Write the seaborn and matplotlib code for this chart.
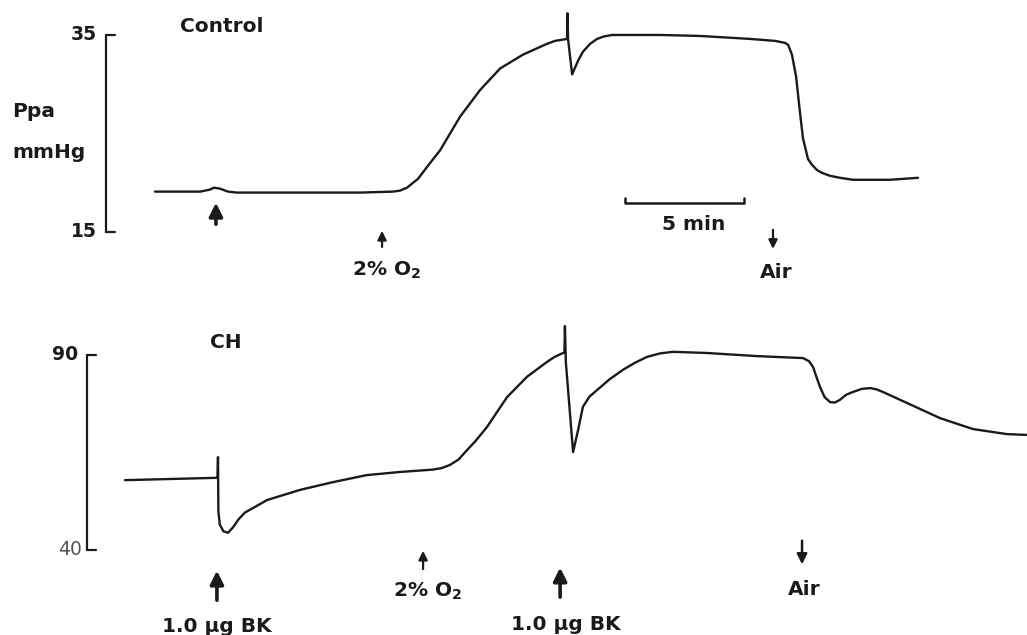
import matplotlib
matplotlib.use("Agg")
import matplotlib.pyplot as plt
import seaborn as sns
import pandas as pd

sns.set_theme(style="white")
plt.rcParams['font.family'] = ['DejaVu Sans']
plt.rcParams['mathtext.fontset'] = 'dejavusans'
plt.rcParams['mathtext.default'] = 'bf'

# ---- data (time in min, Ppa in mmHg) ----
control_t = [1.25, 3.13, 3.54, 3.71, 3.96, 4.29, 4.67, 7.29, 9.79, 11.17, 11.46, 11.75,
             12.21, 12.71, 13.13, 13.96, 14.79, 15.63, 16.58, 17.58, 17.92, 18.42, 18.44,
             18.46, 18.63, 18.88, 19.08, 19.38, 19.67, 19.96, 20.29, 22.29, 23.96, 26.04,
             27.08, 27.50, 27.63, 27.79, 27.96, 28.13, 28.25, 28.46, 28.63, 28.83, 29.04,
             29.38, 29.79, 30.33, 31.88, 33.04]
control_p = [19.1, 19.1, 19.3, 19.5, 19.4, 19.1, 19.0, 19.0, 19.0, 19.1, 19.2, 19.5,
             20.4, 22.0, 23.3, 26.7, 29.4, 31.6, 33.0, 34.1, 34.4, 34.6, 37.2,
             34.6, 31.0, 32.4, 33.3, 34.1, 34.6, 34.85, 35.0, 35.0, 34.9, 34.6,
             34.4, 34.2, 34.0, 33.0, 30.8, 27.0, 24.5, 22.4, 21.8, 21.3, 21.0,
             20.7, 20.5, 20.3, 20.3, 20.5]

ch_t = [0.00, 3.83, 3.855, 3.875, 3.89, 3.95, 4.10, 4.29, 4.50, 4.75, 5.00, 5.92, 7.29,
        8.67, 10.08, 11.46, 12.83, 13.20, 13.54, 13.90, 14.25, 14.60, 15.08, 15.92, 16.75,
        17.58, 17.90, 18.25, 18.31, 18.33, 18.37, 18.67, 18.88, 19.08, 19.35, 19.67,
        20.20, 20.75, 21.25, 21.75, 22.30, 22.83, 24.25, 26.33, 28.25, 28.50, 28.67,
        28.83, 28.96, 29.15, 29.38, 29.58, 29.79, 30.05, 30.33, 30.70, 31.04, 31.30,
        31.58, 32.58, 33.96, 35.33, 36.75, 37.58]
ch_p = [57.9, 58.5, 58.5, 63.8, 50.0, 46.5, 44.8, 44.4, 45.8, 48.0, 49.6, 52.8, 55.4,
        57.4, 59.2, 60.0, 60.6, 61.0, 61.8, 63.2, 65.6, 67.9, 71.5, 79.2, 84.4,
        88.2, 89.5, 90.5, 90.6, 97.4, 88.0, 65.1, 70.8, 76.7, 79.3, 81.0,
        83.8, 86.2, 88.0, 89.5, 90.4, 90.8, 90.5, 89.7, 89.2, 88.4, 86.9,
        84.0, 81.8, 79.2, 77.9, 77.8, 78.5, 79.8, 80.5, 81.3, 81.5, 81.2,
        80.5, 77.7, 73.8, 71.0, 69.7, 69.5]

control_scale = [15, 35]
ch_scale = [40, 90]

# events: (time, label)
control_events = [(3.79, ""), (10.71, "2% O$_2$"), (27.0, "Air")]
ch_events = [(3.83, "1.0 μg BK"), (12.42, "2% O$_2$"), (18.13, "1.0 μg BK"), (28.21, "Air")]

df_c = pd.DataFrame({"t": control_t, "p": control_p})
df_h = pd.DataFrame({"t": ch_t, "p": ch_p})

fig = plt.figure(figsize=(10.27, 6.35), dpi=100)
ax1 = fig.add_axes([0, 0.5, 1, 0.5])
ax2 = fig.add_axes([0, 0.0, 1, 0.5])

XL = (-5.208, 37.583)
for ax in (ax1, ax2):
    ax.set_xlim(*XL)
    ax.axis("off")
ax1.set_ylim(6.32, 38.55)
ax2.set_ylim(18.2, 99.6)

k = "#1a1a1a"
sns.lineplot(data=df_c, x="t", y="p", ax=ax1, color=k, lw=1.7,
             sort=False, estimator=None, solid_joinstyle="round", solid_capstyle="round")
sns.lineplot(data=df_h, x="t", y="p", ax=ax2, color=k, lw=1.7,
             sort=False, estimator=None, solid_joinstyle="round", solid_capstyle="round")

FS = 14.5

# ---- top panel annotations ----
lo, hi = control_scale
ax1.plot([-0.79, -0.79], [lo, hi], color=k, lw=1.6)
ax1.plot([-0.79, -0.40], [hi, hi], color=k, lw=1.6)
ax1.plot([-0.79, -0.40], [lo, lo], color=k, lw=1.6)
ax1.text(-1.17, hi, str(hi), ha="right", va="center", fontsize=13.5, fontweight="bold", color=k)
ax1.text(-1.17, lo, str(lo), ha="right", va="center", fontsize=13.5, fontweight="bold", color=k)
ax1.text(-4.71, 26.7, "Ppa", ha="left", va="baseline", fontsize=FS, fontweight="bold", color=k)
ax1.text(-4.71, 22.5, "mmHg", ha="left", va="baseline", fontsize=FS, fontweight="bold", color=k)
ax1.text(2.29, 35.3, "Control", ha="left", va="baseline", fontsize=FS, fontweight="bold", color=k)

# 5 min bar
ax1.plot([20.83, 20.83, 25.79, 25.79], [18.4, 17.94, 17.94, 18.4], color=k, lw=1.8)
ax1.text(23.71, 15.2, "5 min", ha="center", va="baseline", fontsize=FS, fontweight="bold", color=k)

# arrows top
ax1.annotate("", xy=(control_events[0][0], 18.25), xytext=(control_events[0][0], 15.5),
             arrowprops=dict(arrowstyle="-|>", lw=2.6, color=k, mutation_scale=20))
ax1.annotate("", xy=(control_events[1][0], 15.4), xytext=(control_events[1][0], 13.2),
             arrowprops=dict(arrowstyle="-|>", lw=1.6, color=k, mutation_scale=13))
ax1.text(control_events[1][0] + 0.2, 10.6, control_events[1][1], ha="center", va="baseline",
         fontsize=FS, fontweight="bold", color=k)
ax1.annotate("", xy=(control_events[2][0], 13.0), xytext=(control_events[2][0], 15.5),
             arrowprops=dict(arrowstyle="-|>", lw=1.6, color=k, mutation_scale=13))
ax1.text(control_events[2][0] + 0.13, 10.33, control_events[2][1], ha="center", va="baseline",
         fontsize=FS, fontweight="bold", color=k)

# ---- bottom panel annotations ----
lo, hi = ch_scale
ax2.plot([-1.58, -1.58], [lo, hi], color=k, lw=1.6)
ax2.plot([-1.58, -1.20], [hi, hi], color=k, lw=1.6)
ax2.plot([-1.58, -1.20], [lo, lo], color=k, lw=1.6)
ax2.text(-1.96, hi, str(hi), ha="right", va="center", fontsize=13.5, fontweight="bold", color=k)
ax2.text(-1.79, lo, str(lo), ha="right", va="center", fontsize=13.5, color="#555555")
ax2.text(3.54, 91.8, "CH", ha="left", va="baseline", fontsize=FS, fontweight="bold", color=k)

ax2.annotate("", xy=(ch_events[0][0], 35.4), xytext=(ch_events[0][0], 26.4),
             arrowprops=dict(arrowstyle="-|>", lw=2.6, color=k, mutation_scale=20))
ax2.text(ch_events[0][0], 19.0, ch_events[0][1], ha="center", va="baseline",
         fontsize=FS, fontweight="bold", color=k)
ax2.annotate("", xy=(ch_events[1][0], 40.5), xytext=(ch_events[1][0], 34.4),
             arrowprops=dict(arrowstyle="-|>", lw=1.6, color=k, mutation_scale=13))
ax2.text(ch_events[1][0] + 0.2, 27.9, ch_events[1][1], ha="center", va="baseline",
         fontsize=FS, fontweight="bold", color=k)
ax2.annotate("", xy=(ch_events[2][0], 36.2), xytext=(ch_events[2][0], 27.2),
             arrowprops=dict(arrowstyle="-|>", lw=2.6, color=k, mutation_scale=20))
ax2.text(ch_events[2][0] + 0.25, 19.5, ch_events[2][1], ha="center", va="baseline",
         fontsize=FS, fontweight="bold", color=k)
ax2.annotate("", xy=(ch_events[3][0], 35.6), xytext=(ch_events[3][0], 43.1),
             arrowprops=dict(arrowstyle="-|>", lw=1.8, color=k, mutation_scale=15))
ax2.text(ch_events[3][0] + 0.08, 28.5, ch_events[3][1], ha="center", va="baseline",
         fontsize=FS, fontweight="bold", color=k)

for ax in (ax1, ax2):
    for t in ax.texts:
        t.set_clip_on(False)

fig.savefig("out.png", dpi=100, facecolor="white")
